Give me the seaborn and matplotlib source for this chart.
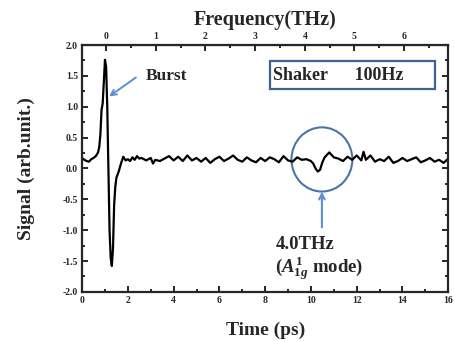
import numpy as np
import pandas as pd
import matplotlib
matplotlib.use("Agg")
import matplotlib.pyplot as plt
import seaborn as sns
from matplotlib.patches import Ellipse, Rectangle
from matplotlib.ticker import MultipleLocator, FormatStrFormatter

# ---------------- data ----------------
time_ps = [0.0, 0.1, 0.2, 0.3, 0.4, 0.5, 0.6, 0.7, 0.75, 0.8, 0.85, 0.9, 0.95, 1.0,
           1.05, 1.1, 1.15, 1.2, 1.25, 1.3, 1.35, 1.4, 1.45, 1.5, 1.6, 1.7, 1.8, 1.9,
           2.0, 2.1, 2.2, 2.3, 2.4, 2.5, 2.6, 2.8, 3.0, 3.1, 3.2, 3.4, 3.6, 3.8, 4.0,
           4.2, 4.4, 4.6, 4.8, 5.0, 5.2, 5.4, 5.6, 5.8, 6.0, 6.2, 6.4, 6.6, 6.8, 7.0,
           7.2, 7.4, 7.6, 7.8, 8.0, 8.2, 8.4, 8.6, 8.8, 9.0, 9.2, 9.4, 9.6, 9.8, 10.0,
           10.1, 10.2, 10.3, 10.4, 10.5, 10.6, 10.7, 10.8, 10.9, 11.0, 11.2, 11.4,
           11.6, 11.8, 12.0, 12.2, 12.3, 12.4, 12.6, 12.8, 13.0, 13.2, 13.4, 13.6,
           13.8, 14.0, 14.2, 14.4, 14.6, 14.8, 15.0, 15.2, 15.4, 15.6, 15.8, 16.0]
signal = [0.17, 0.14, 0.12, 0.11, 0.15, 0.17, 0.20, 0.26, 0.35, 0.55, 0.95, 1.05,
          1.40, 1.76, 1.65, 1.00, 0.00, -1.00, -1.45, -1.58, -1.30, -0.60, -0.30,
          -0.15, -0.05, 0.08, 0.19, 0.13, 0.15, 0.12, 0.18, 0.14, 0.20, 0.16, 0.17,
          0.13, 0.17, 0.08, 0.14, 0.12, 0.16, 0.20, 0.13, 0.19, 0.12, 0.21, 0.13,
          0.17, 0.11, 0.17, 0.09, 0.15, 0.19, 0.12, 0.16, 0.21, 0.14, 0.11, 0.18,
          0.13, 0.10, 0.17, 0.12, 0.18, 0.15, 0.10, 0.20, 0.13, 0.11, 0.18, 0.14,
          0.15, 0.12, 0.08, 0.00, -0.05, -0.02, 0.10, 0.18, 0.22, 0.26, 0.22, 0.18,
          0.16, 0.12, 0.19, 0.14, 0.21, 0.13, 0.27, 0.14, 0.21, 0.11, 0.15, 0.12,
          0.19, 0.09, 0.12, 0.17, 0.12, 0.15, 0.18, 0.10, 0.13, 0.17, 0.11, 0.14,
          0.09, 0.16]

# top axis: frequency ticks sit at these times
freq_zero_ps = 1.05
ps_per_thz = 2.17

df = pd.DataFrame({"t": time_ps, "s": signal})

# ---------------- style ----------------
sns.set_style("ticks")
plt.rcParams["font.family"] = ["Liberation Serif", "DejaVu Serif"]
plt.rcParams["font.weight"] = "bold"
plt.rcParams["axes.labelweight"] = "bold"
plt.rcParams["mathtext.fontset"] = "custom"
plt.rcParams["mathtext.rm"] = "Liberation Serif:bold"
plt.rcParams["mathtext.it"] = "Liberation Serif:italic:bold"
plt.rcParams["mathtext.bf"] = "Liberation Serif:bold"

fig = plt.figure(figsize=(4.56, 3.41), dpi=100)
ax = fig.add_axes([0.18, 0.144, 0.803, 0.724])

sns.lineplot(data=df, x="t", y="s", color="black", linewidth=1.6, ax=ax)

ax.xaxis.set_major_locator(MultipleLocator(2))
ax.xaxis.set_minor_locator(MultipleLocator(1))
ax.yaxis.set_major_locator(MultipleLocator(0.5))
ax.yaxis.set_minor_locator(MultipleLocator(0.25))
ax.yaxis.set_major_formatter(FormatStrFormatter("%.1f"))
ax.set_xlim(0, 16)
ax.set_ylim(-2.0, 2.0)
ax.tick_params(which="both", direction="in", top=False, right=True, width=1.4,
               labelsize=7, pad=3)
ax.tick_params(which="major", length=4)
ax.tick_params(which="minor", length=2)
for sp in ax.spines.values():
    sp.set_linewidth(1.6)

ax.set_xlabel("Time (ps)", fontsize=14, fontweight="bold", labelpad=12)
ax.set_ylabel("Signal (arb.unit.)", fontsize=14, fontweight="bold", labelpad=20)

top = ax.secondary_xaxis("top", functions=(lambda t: (t - freq_zero_ps) / ps_per_thz,
                                           lambda f: f * ps_per_thz + freq_zero_ps))
top.xaxis.set_major_locator(MultipleLocator(1))
top.xaxis.set_minor_locator(MultipleLocator(0.5))
top.tick_params(which="both", direction="in", width=1.4, labelsize=7, pad=3)
top.tick_params(which="major", length=4)
top.tick_params(which="minor", length=2)
top.set_xlabel("Frequency(THz)", fontsize=14.5, fontweight="bold", labelpad=5)

# annotations
ax.annotate("", xy=(1.08, 1.14), xytext=(2.45, 1.50),
            arrowprops=dict(arrowstyle="->", color="#5b8fd0", lw=1.4))
ax.text(2.8, 1.5, "Burst", fontsize=12.5, fontweight="bold", va="center", ha="left")

ax.add_patch(Rectangle((8.2, 1.28), 7.24, 0.46, fill=False, edgecolor="#3e638f", lw=1.6))
ax.text(8.35, 1.51, "Shaker      100Hz", fontsize=13, fontweight="bold", va="center", ha="left")

ax.add_patch(Ellipse((10.48, 0.146), 2.66, 1.04, fill=False, edgecolor="#4a74a8", lw=1.5))
ax.annotate("", xy=(10.48, -0.33), xytext=(10.48, -1.0),
            arrowprops=dict(arrowstyle="->", color="#5b8fd0", lw=1.5))
ax.text(8.45, -1.24, "4.0THz", fontsize=13.5, fontweight="bold", va="center", ha="left")
ax.text(8.45, -1.62, r"($A_{1g}^{1}$ mode)", fontsize=13.5, fontweight="bold", va="center", ha="left")

fig.savefig("out.png", dpi=100)
